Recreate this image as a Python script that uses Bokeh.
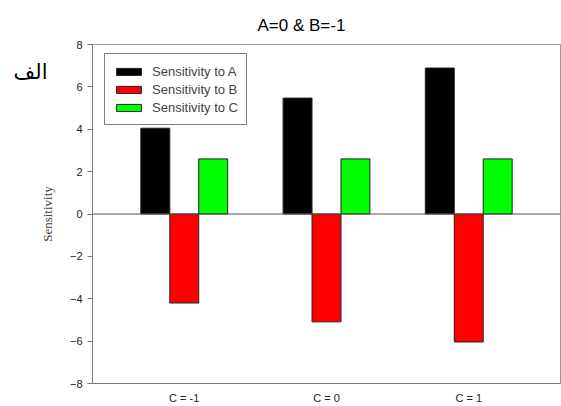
from bokeh.plotting import figure
from bokeh.models import (ColumnDataSource, FactorRange, Span, Legend, LegendItem, FixedTicker, Title,
                          LinearAxis, CustomJSTickFormatter)
from bokeh.transform import dodge
from bokeh.embed import file_html
from bokeh.resources import INLINE

categories = ["C = -1", "C = 0", "C = 1"]
sens_A = [4.05, 5.47, 6.89]
sens_B = [-4.2, -5.09, -6.04]
sens_C = [2.6, 2.6, 2.6]
series_names = ["Sensitivity to A", "Sensitivity to B", "Sensitivity to C"]
colors = ["#000000", "#ff0000", "#00ff00"]
y_ticks = [-8, -6, -4, -2, 0, 2, 4, 6, 8]
title_text = "A=0 & B=-1"
side_label = "الف"

src = ColumnDataSource(dict(cat=categories, a=sens_A, b=sens_B, c=sens_C))

p = figure(width=561, height=406, output_backend="svg", toolbar_location=None,
           x_range=FactorRange(factors=categories, range_padding=0.0967, range_padding_units="percent"),
           y_range=(-8, 8))
p.min_border_left = 92
p.min_border_right = 1
p.min_border_top = 44
p.min_border_bottom = 23

p.title = Title(text=title_text, align="left", offset=165, standoff=20,
                text_font="Liberation Sans", text_font_size="17px", text_font_style="normal",
                text_color="#000000")

w = 0.2035
renderers = []
for key, off, col in zip(["a", "b", "c"], [-w, 0, w], colors):
    r = p.vbar(x=dodge("cat", off, range=p.x_range), top=key, bottom=0, width=w, source=src,
               fill_color=col, line_color="#222222", line_width=1)
    renderers.append(r)

p.add_layout(Span(location=0, dimension="width", line_color="#555555", line_width=1))

p.xgrid.visible = False
p.ygrid.visible = False
p.outline_line_color = "#999999"
p.outline_line_width = 1

p.yaxis.ticker = FixedTicker(ticks=y_ticks)
p.yaxis.minor_tick_line_color = None
p.yaxis.major_tick_out = 5
p.yaxis.major_tick_in = 0
p.yaxis.axis_line_color = "#777777"
p.yaxis.major_tick_line_color = "#777777"
p.yaxis.major_label_text_font = "Liberation Sans"
p.yaxis.major_label_text_font_size = "11px"
p.yaxis.major_label_text_color = "#222222"
p.yaxis.axis_label = "Sensitivity"
p.yaxis.axis_label_text_font = "Liberation Serif"
p.yaxis.axis_label_text_font_size = "13px"
p.yaxis.axis_label_text_font_style = "normal"
p.yaxis.axis_label_standoff = 12

p.xaxis.major_tick_line_color = None
p.xaxis.minor_tick_line_color = None
p.xaxis.axis_line_color = "#777777"
p.xaxis.major_label_text_font = "Liberation Sans"
p.xaxis.major_label_text_font_size = "11px"
p.xaxis.major_label_text_color = "#222222"
p.xaxis.major_label_standoff = 2

# Arabic panel label, drawn as a tick-label-only axis so it can sit outside the frame
side_axis = LinearAxis(ticker=FixedTicker(ticks=[6.7]),
                       formatter=CustomJSTickFormatter(code="return %r;" % side_label),
                       axis_line_color=None, major_tick_line_color=None, minor_tick_line_color=None,
                       major_label_standoff=-17, major_label_text_font="DejaVu Sans",
                       major_label_text_font_size="21px", major_label_text_color="#000000")
p.add_layout(side_axis, "left")

legend = Legend(items=[LegendItem(label=n, renderers=[r]) for n, r in zip(series_names, renderers)],
                location=(12, 258))
legend.label_text_font = "Liberation Sans"
legend.label_text_font_size = "13px"
legend.label_height = 18
legend.glyph_height = 9
legend.glyph_width = 31
legend.spacing = 0
legend.padding = 8
legend.margin = 0
legend.border_line_color = "#000000"
legend.border_line_width = 1
legend.label_standoff = 8
p.add_layout(legend)

open("out.html", "w").write(file_html(p, INLINE))
